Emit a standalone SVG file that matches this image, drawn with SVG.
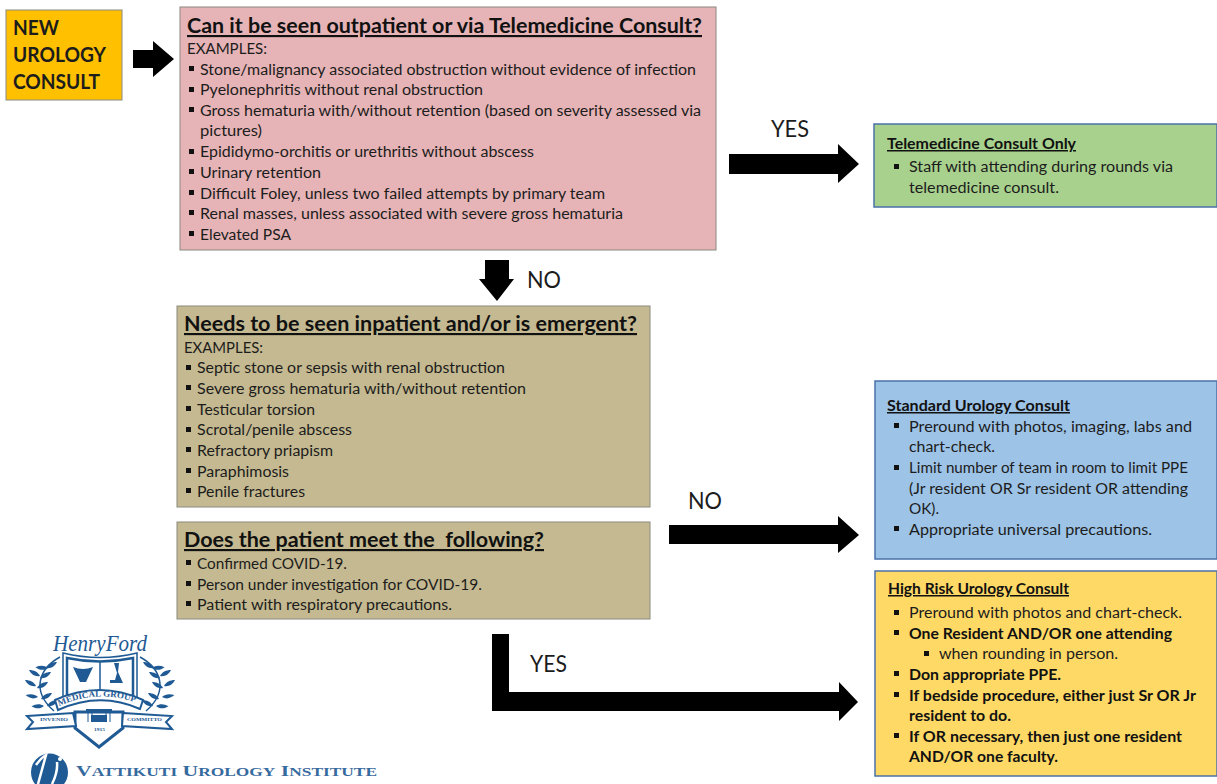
<svg xmlns="http://www.w3.org/2000/svg" width="1217" height="784" viewBox="0 0 1217 784">
<style>
text{font-family:"Lato","Carlito","Open Sans",sans-serif;fill:#1c1c1c}
.b{font-size:15.5px}
.h{font-size:21.5px;font-weight:700;text-decoration:underline;fill:#111}
.s{font-size:15px;font-weight:700;text-decoration:underline;fill:#111}
.bd{font-weight:700;fill:#111}
.l{font-size:24px}
.arrow{fill:#000}
.sq{fill:#111}
.logo{fill:#1f5a94}
.line{fill:none;stroke:#1f5a94}
.rib{fill:#fff;stroke:#1f5a94}
.lt{fill:#1f5a94;font-family:"Liberation Serif",serif}
.box{stroke:#8a8a80;stroke-width:1}
.bluebox{stroke:#4a72a8;stroke-width:1.5}
</style>
<defs>
<rect id="sq" class="sq" width="5" height="5"/>
<path id="lf" class="logo" d="M0 0C2-4 6-6 11-6C9-2 5 1 0 0Z"/>
<path id="rf" class="logo" d="M0 0C-2-4-6-6-11-6C-9-2-5 1 0 0Z"/>
<g id="branch">
<path class="line" stroke-width="1.5" d="M60 657C40 668 30 690 54 711"/>
<use href="#lf" x="46" y="668"/><use href="#lf" x="40" y="678"/><use href="#lf" x="37" y="688"/><use href="#lf" x="41" y="699"/><use href="#lf" x="47" y="706"/>
<use href="#rf" x="48" y="668" transform="rotate(-25 48 668)"/><use href="#rf" x="40" y="676"/><use href="#rf" x="36" y="686"/><use href="#rf" x="38" y="697" transform="rotate(-20 38 697)"/><use href="#rf" x="44" y="706" transform="rotate(-30 44 706)"/>
</g>
</defs>
<g id="new-consult">
<rect class="box" x="6" y="10" width="116" height="90" fill="#ffc000"/>
<text x="13" y="35" font-size="21.5" font-weight="700" fill="#111" textLength="46" lengthAdjust="spacingAndGlyphs">NEW</text>
<text x="13" y="62" font-size="21.5" font-weight="700" fill="#111" textLength="93" lengthAdjust="spacingAndGlyphs">UROLOGY</text>
<text x="13" y="89" font-size="21.5" font-weight="700" fill="#111" textLength="87" lengthAdjust="spacingAndGlyphs">CONSULT</text>
</g>
<g id="outpatient">
<rect class="box" x="180" y="7" width="536" height="243" fill="#e6b4b6"/>
<text class="h" x="187" y="33" textLength="515" lengthAdjust="spacingAndGlyphs">Can it be seen outpatient or via Telemedicine Consult?</text>
<text class="b" x="187" y="54" textLength="80" lengthAdjust="spacingAndGlyphs">EXAMPLES:</text>
<use href="#sq" x="189" y="66"/><text class="b" x="200" y="75" textLength="496" lengthAdjust="spacingAndGlyphs">Stone/malignancy associated obstruction without evidence of infection</text>
<use href="#sq" x="189" y="87"/><text class="b" x="200" y="95" textLength="283" lengthAdjust="spacingAndGlyphs">Pyelonephritis without renal obstruction</text>
<use href="#sq" x="189" y="107"/><text class="b" x="200" y="116" textLength="501" lengthAdjust="spacingAndGlyphs">Gross hematuria with/without retention (based on severity assessed via</text>
<text class="b" x="200" y="136" textLength="62" lengthAdjust="spacingAndGlyphs">pictures)</text>
<use href="#sq" x="189" y="149"/><text class="b" x="200" y="157" textLength="334" lengthAdjust="spacingAndGlyphs">Epididymo-orchitis or urethritis without abscess</text>
<use href="#sq" x="189" y="169"/><text class="b" x="200" y="178" textLength="121" lengthAdjust="spacingAndGlyphs">Urinary retention</text>
<use href="#sq" x="189" y="190"/><text class="b" x="200" y="199" textLength="405" lengthAdjust="spacingAndGlyphs">Difficult Foley, unless two failed attempts by primary team</text>
<use href="#sq" x="189" y="210"/><text class="b" x="200" y="219" textLength="423" lengthAdjust="spacingAndGlyphs">Renal masses, unless associated with severe gross hematuria</text>
<use href="#sq" x="189" y="231"/><text class="b" x="200" y="240" textLength="91" lengthAdjust="spacingAndGlyphs">Elevated PSA</text>
</g>
<g id="inpatient">
<rect class="box" x="177" y="306" width="473" height="201" fill="#c4b990"/>
<text class="h" x="184" y="331" textLength="453" lengthAdjust="spacingAndGlyphs">Needs to be seen inpatient and/or is emergent?</text>
<text class="b" x="184" y="353" textLength="79" lengthAdjust="spacingAndGlyphs">EXAMPLES:</text>
<use href="#sq" x="186" y="365"/><text class="b" x="197" y="373" textLength="308" lengthAdjust="spacingAndGlyphs">Septic stone or sepsis with renal obstruction</text>
<use href="#sq" x="186" y="385"/><text class="b" x="197" y="394" textLength="329" lengthAdjust="spacingAndGlyphs">Severe gross hematuria with/without retention</text>
<use href="#sq" x="186" y="406"/><text class="b" x="197" y="415" textLength="118" lengthAdjust="spacingAndGlyphs">Testicular torsion</text>
<use href="#sq" x="186" y="427"/><text class="b" x="197" y="435" textLength="155" lengthAdjust="spacingAndGlyphs">Scrotal/penile abscess</text>
<use href="#sq" x="186" y="447"/><text class="b" x="197" y="456" textLength="136" lengthAdjust="spacingAndGlyphs">Refractory priapism</text>
<use href="#sq" x="186" y="468"/><text class="b" x="197" y="477" textLength="92" lengthAdjust="spacingAndGlyphs">Paraphimosis</text>
<use href="#sq" x="186" y="488"/><text class="b" x="197" y="497" textLength="108" lengthAdjust="spacingAndGlyphs">Penile fractures</text>
</g>
<g id="covid">
<rect class="box" x="177" y="522" width="473" height="97" fill="#c4b990"/>
<text class="h" x="184" y="547" textLength="360" lengthAdjust="spacingAndGlyphs" xml:space="preserve">Does the patient meet the  following?</text>
<use href="#sq" x="186" y="560"/><text class="b" x="197" y="569" textLength="150" lengthAdjust="spacingAndGlyphs">Confirmed COVID-19.</text>
<use href="#sq" x="186" y="581"/><text class="b" x="197" y="590" textLength="285" lengthAdjust="spacingAndGlyphs">Person under investigation for COVID-19.</text>
<use href="#sq" x="186" y="601"/><text class="b" x="197" y="610" textLength="255" lengthAdjust="spacingAndGlyphs">Patient with respiratory precautions.</text>
</g>
<g id="telemedicine">
<rect class="bluebox" x="874" y="124" width="343" height="83" fill="#a9d18e" stroke="#6d8fb0"/>
<text class="s" x="887" y="149" textLength="189" lengthAdjust="spacingAndGlyphs">Telemedicine Consult Only</text>
<use href="#sq" x="894" y="164"/><text class="b" x="909" y="172" textLength="264" lengthAdjust="spacingAndGlyphs">Staff with attending during rounds via</text>
<text class="b" x="909" y="193" textLength="150" lengthAdjust="spacingAndGlyphs">telemedicine consult.</text>
</g>
<g id="standard">
<rect class="bluebox" x="875" y="381" width="342" height="178" fill="#9dc3e6"/>
<text class="s" x="887" y="411" textLength="183" lengthAdjust="spacingAndGlyphs">Standard Urology Consult</text>
<use href="#sq" x="894" y="423"/><text class="b" x="909" y="432" textLength="283" lengthAdjust="spacingAndGlyphs">Preround with photos, imaging, labs and</text>
<text class="b" x="909" y="452" textLength="86" lengthAdjust="spacingAndGlyphs">chart-check.</text>
<use href="#sq" x="894" y="465"/><text class="b" x="909" y="473" textLength="279" lengthAdjust="spacingAndGlyphs">Limit number of team in room to limit PPE</text>
<text class="b" x="909" y="494" textLength="279" lengthAdjust="spacingAndGlyphs">(Jr resident OR Sr resident OR attending</text>
<text class="b" x="909" y="514" textLength="30" lengthAdjust="spacingAndGlyphs">OK).</text>
<use href="#sq" x="894" y="526"/><text class="b" x="909" y="535" textLength="243" lengthAdjust="spacingAndGlyphs">Appropriate universal precautions.</text>
</g>
<g id="high-risk">
<rect class="bluebox" x="875" y="571" width="342" height="205" fill="#ffd966"/>
<text class="s" x="888" y="594" textLength="181" lengthAdjust="spacingAndGlyphs">High Risk Urology Consult</text>
<use href="#sq" x="894" y="610"/><text class="b" x="909" y="618" textLength="273" lengthAdjust="spacingAndGlyphs">Preround with photos and chart-check.</text>
<use href="#sq" x="894" y="630"/><text class="b bd" x="909" y="639" textLength="263" lengthAdjust="spacingAndGlyphs">One Resident AND/OR one attending</text>
<use href="#sq" x="924" y="651"/><text class="b" x="939" y="659" textLength="179" lengthAdjust="spacingAndGlyphs">when rounding in person.</text>
<use href="#sq" x="894" y="671"/><text class="b bd" x="909" y="680" textLength="152" lengthAdjust="spacingAndGlyphs">Don appropriate PPE.</text>
<use href="#sq" x="894" y="692"/><text class="b bd" x="909" y="701" textLength="287" lengthAdjust="spacingAndGlyphs">If bedside procedure, either just Sr OR Jr</text>
<text class="b bd" x="909" y="721" textLength="102" lengthAdjust="spacingAndGlyphs">resident to do.</text>
<use href="#sq" x="894" y="733"/><text class="b bd" x="909" y="742" textLength="273" lengthAdjust="spacingAndGlyphs">If OR necessary, then just one resident</text>
<text class="b bd" x="909" y="762" textLength="149" lengthAdjust="spacingAndGlyphs">AND/OR one faculty.</text>
</g>
<g id="connectors">
<path class="arrow" d="M133 50H153V41L174 59L153 77V68H133Z"/>
<path class="arrow" d="M729 154H838V144L859 164L838 183V174H729Z"/>
<path class="arrow" d="M485 260H509V279H514L497 301L479 279H485Z"/>
<path class="arrow" d="M669 525H838V516L859 535L838 553V544H669Z"/>
<path class="arrow" d="M492 634H509V692H839V682L858 702L839 721V711H492Z"/>
</g>
<g id="labels">
<text class="l" x="771" y="137" textLength="38" lengthAdjust="spacingAndGlyphs">YES</text>
<text class="l" x="527" y="288" textLength="34" lengthAdjust="spacingAndGlyphs">NO</text>
<text class="l" x="688" y="509" textLength="34" lengthAdjust="spacingAndGlyphs">NO</text>
<text class="l" x="530" y="672" textLength="37" lengthAdjust="spacingAndGlyphs">YES</text>
</g>
<g id="logo-henry-ford">
<text x="53" y="651" font-size="24" font-style="italic" style="font-family:'Liberation Serif',serif;fill:#1f5a94" textLength="94" lengthAdjust="spacingAndGlyphs">HenryFord</text>
<use href="#branch"/>
<use href="#branch" transform="matrix(-1 0 0 1 200 0)"/>
<path d="M63 653Q100 662 137 653V700H63Z" fill="#fff" stroke="#1f5a94" stroke-width="1.5"/>
<path d="M67 658Q100 665 133 658V696H67Z" fill="#fff" stroke="#1f5a94" stroke-width="2.5"/>
<path d="M100 661V693" stroke="#1f5a94" stroke-width="1.5"/>
<path d="M73 667Q83 671 93 667L86 682H80Z" class="logo"/>
<path d="M114 663H119L118 672L123 683H110V680H115L117 673Z" class="logo"/>
<path d="M75 712L123 712V728L99 747L75 728Z" fill="#fff" stroke="#1f5a94" stroke-width="3"/>
<path d="M55 700Q100 680 143 700L140 709Q100 691 58 710Z" class="rib" stroke-width="2"/>
<path id="mg" d="M59 706Q100 688 139 704" fill="none"/>
<text class="lt" font-size="8.5" font-weight="700"><textPath href="#mg" textLength="78" lengthAdjust="spacingAndGlyphs">MEDICAL GROUP</textPath></text>
<path d="M27 716L73 713L76 726L27 729L33 722Z" class="rib" stroke-width="2"/>
<path d="M123 713L172 716L166 722L172 729L122 726Z" class="rib" stroke-width="2"/>
<text class="lt" font-size="5" font-weight="700" x="40" y="721" textLength="28" lengthAdjust="spacingAndGlyphs">INVENIO</text>
<text class="lt" font-size="5" font-weight="700" x="127" y="721" textLength="35" lengthAdjust="spacingAndGlyphs">COMMITTO</text>
<rect x="86" y="709" width="26" height="2" class="logo"/>
<path d="M88 711V722M92 711V722M106 711V722M110 711V722" class="line"/>
<rect x="91" y="715" width="16" height="7" class="logo"/>
<text class="lt" font-size="5" font-weight="700" x="94" y="731" textLength="11" lengthAdjust="spacingAndGlyphs">1915</text>
</g>
<g id="logo-vattikuti">
<path d="M31 772A18.500 18.500 0 0 1 68 772C68 777 66.500 781 64 784H35C32.500 781 31 777 31 772Z" class="logo"/>
<path d="M36 765Q42 757 46 755L38 784M52 784Q58 772 57 762" stroke="#fff" stroke-width="2.500" fill="none"/>
<circle cx="60" cy="759" r="2" fill="#fff"/>
<text class="lt" x="76" y="776" font-size="15" font-weight="700" opacity=".9" textLength="301" lengthAdjust="spacingAndGlyphs">V<tspan font-size="12">ATTIKUTI</tspan> U<tspan font-size="12">ROLOGY</tspan> I<tspan font-size="12">NSTITUTE</tspan></text>
</g>
</svg>
